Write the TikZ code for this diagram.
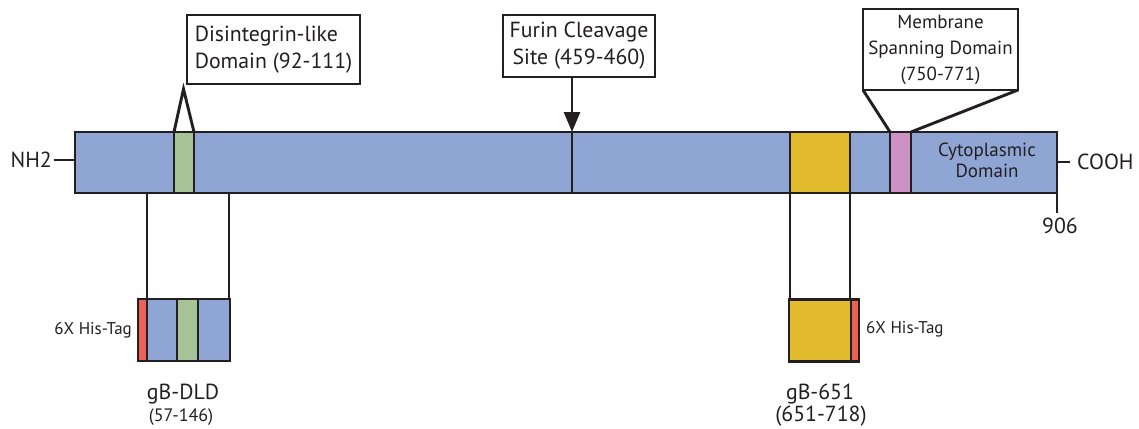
\documentclass[tikz,border=0pt]{standalone}
\usepackage{fontspec}
\setmainfont{PT Sans}
\usetikzlibrary{arrows.meta}
\definecolor{pblue}{RGB}{143,166,212}
\definecolor{pgreen}{RGB}{166,195,152}
\definecolor{pgold}{RGB}{226,186,46}
\definecolor{ppink}{RGB}{204,146,196}
\definecolor{pred}{RGB}{236,98,88}
\definecolor{ink}{RGB}{35,31,32}
\newcommand\fbig{\fontsize{21.8}{27}\selectfont}
\newcommand\fmid{\fontsize{19}{26}\selectfont}
\newcommand\fsml{\fontsize{18}{21}\selectfont}
\newcommand\ftag{\fontsize{17}{19}\selectfont}
\tikzset{
  seg/.style={draw=ink, line width=2.9pt, inner sep=0pt, outer sep=0pt, minimum height=61pt},
  lbl/.style={draw=ink, line width=2.9pt, fill=white, inner sep=0pt, outer sep=0pt, align=center, text=ink},
  conn/.style={draw=ink, line width=2.9pt},
  txt/.style={inner sep=0pt, text=ink, align=center},
}
\begin{document}
\begin{tikzpicture}[x=1pt,y=-1pt]
\useasboundingbox (0,0) rectangle (1139,428);
% main bar
\node[seg, fill=pblue, minimum width=982pt] (bar) at (566,162.5) {};
\node[seg, fill=pgreen, minimum width=20pt] (dld) at (184,162.5) {};
\node[seg, fill=pgold, minimum width=60pt] (gold) at (820,162.5) {};
\node[seg, fill=ppink, minimum width=21pt] (tm) at (900.5,162.5) {};
\coordinate (cut) at (572,132);
\draw[conn] (cut) -- (cut |- bar.south);
\node[txt, font=\fmid, anchor=center] (cyto) at (987,160) {Cytoplasmic\\[-5pt]Domain};
% ends
\coordinate (nhend) at (54,160);
\node[txt, font=\fbig, anchor=east] (nh2) at (52,160) {NH2};
\draw[conn] (nhend) -- (nhend -| bar.west);
\coordinate (coend) at (1070,162);
\draw[conn] (coend -| bar.east) -- (coend);
\node[txt, font=\fbig, anchor=west] (cooh) at (1077,162) {COOH};
\coordinate (tickend) at (1057,213);
\draw[conn] (bar.south east) -- (tickend);
\node[txt, font=\fbig, anchor=north] (n906) at (1060,218) {906};
% label boxes
\node[lbl, font=\fbig, minimum width=173pt, minimum height=69pt, align=left] (disbox) at (273.5,49.5) {Disintegrin-like\\Domain (92-111)};
\coordinate (apex) at (183.5,89);
\draw[conn, line join=miter] (dld.north west) -- (apex) -- (dld.north east);
\node[lbl, font=\fbig, minimum width=152pt, minimum height=62pt] (furin) at (579,46) {Furin Cleavage\\Site (459-460)};
\draw[conn, -{Triangle[length=20pt,width=16pt]}] (furin.south -| cut) -- (cut);
\node[lbl, font=\fmid, minimum width=155pt, minimum height=81pt] (mem) at (940.5,49.5) {Membrane\\Spanning Domain\\(750-771)};
\draw[conn] (mem.south west) -- (tm.north west);
\draw[conn] (mem.south east) -- (tm.north east);
% gB-DLD construct
\node[seg, fill=pblue, minimum width=92pt, minimum height=62pt] (cdld) at (184,330) {};
\node[seg, fill=pred, minimum width=9pt, minimum height=62pt] (cdldred) at (142.5,330) {};
\node[seg, fill=pgreen, minimum width=21pt, minimum height=62pt] (cdldgrn) at (187.5,330) {};
\coordinate (dl) at (147,0);
\coordinate (dr) at (229,0);
\draw[conn] (bar.south -| dl) -- (cdld.north -| dl);
\draw[conn] (bar.south -| dr) -- (cdld.north -| dr);
\node[txt, font=\ftag, anchor=east] (tagl) at (132,330) {6X His-Tag};
\node[txt, font=\fbig, anchor=base] (dldname) at (183,399) {gB-DLD};
\node[txt, font=\fsml, anchor=base] (dldrange) at (181,421) {(57-146)};
% gB-651 construct
\node[seg, fill=pgold, minimum width=62pt, minimum height=62pt] (c651) at (820,330.5) {};
\node[seg, fill=pred, minimum width=8pt, minimum height=62pt] (c651red) at (855,330.5) {};
\draw[conn] (gold.south west) -- (gold.south west |- c651.north);
\draw[conn] (gold.south east) -- (gold.south east |- c651.north);
\node[txt, font=\ftag, anchor=west] (tagr) at (866,329) {6X His-Tag};
\node[txt, font=\fbig, anchor=base] (n651) at (820,399) {gB-651};
\node[txt, font=\fbig, anchor=base] (r651) at (821,421) {(651-718)};
\end{tikzpicture}
\end{document}
